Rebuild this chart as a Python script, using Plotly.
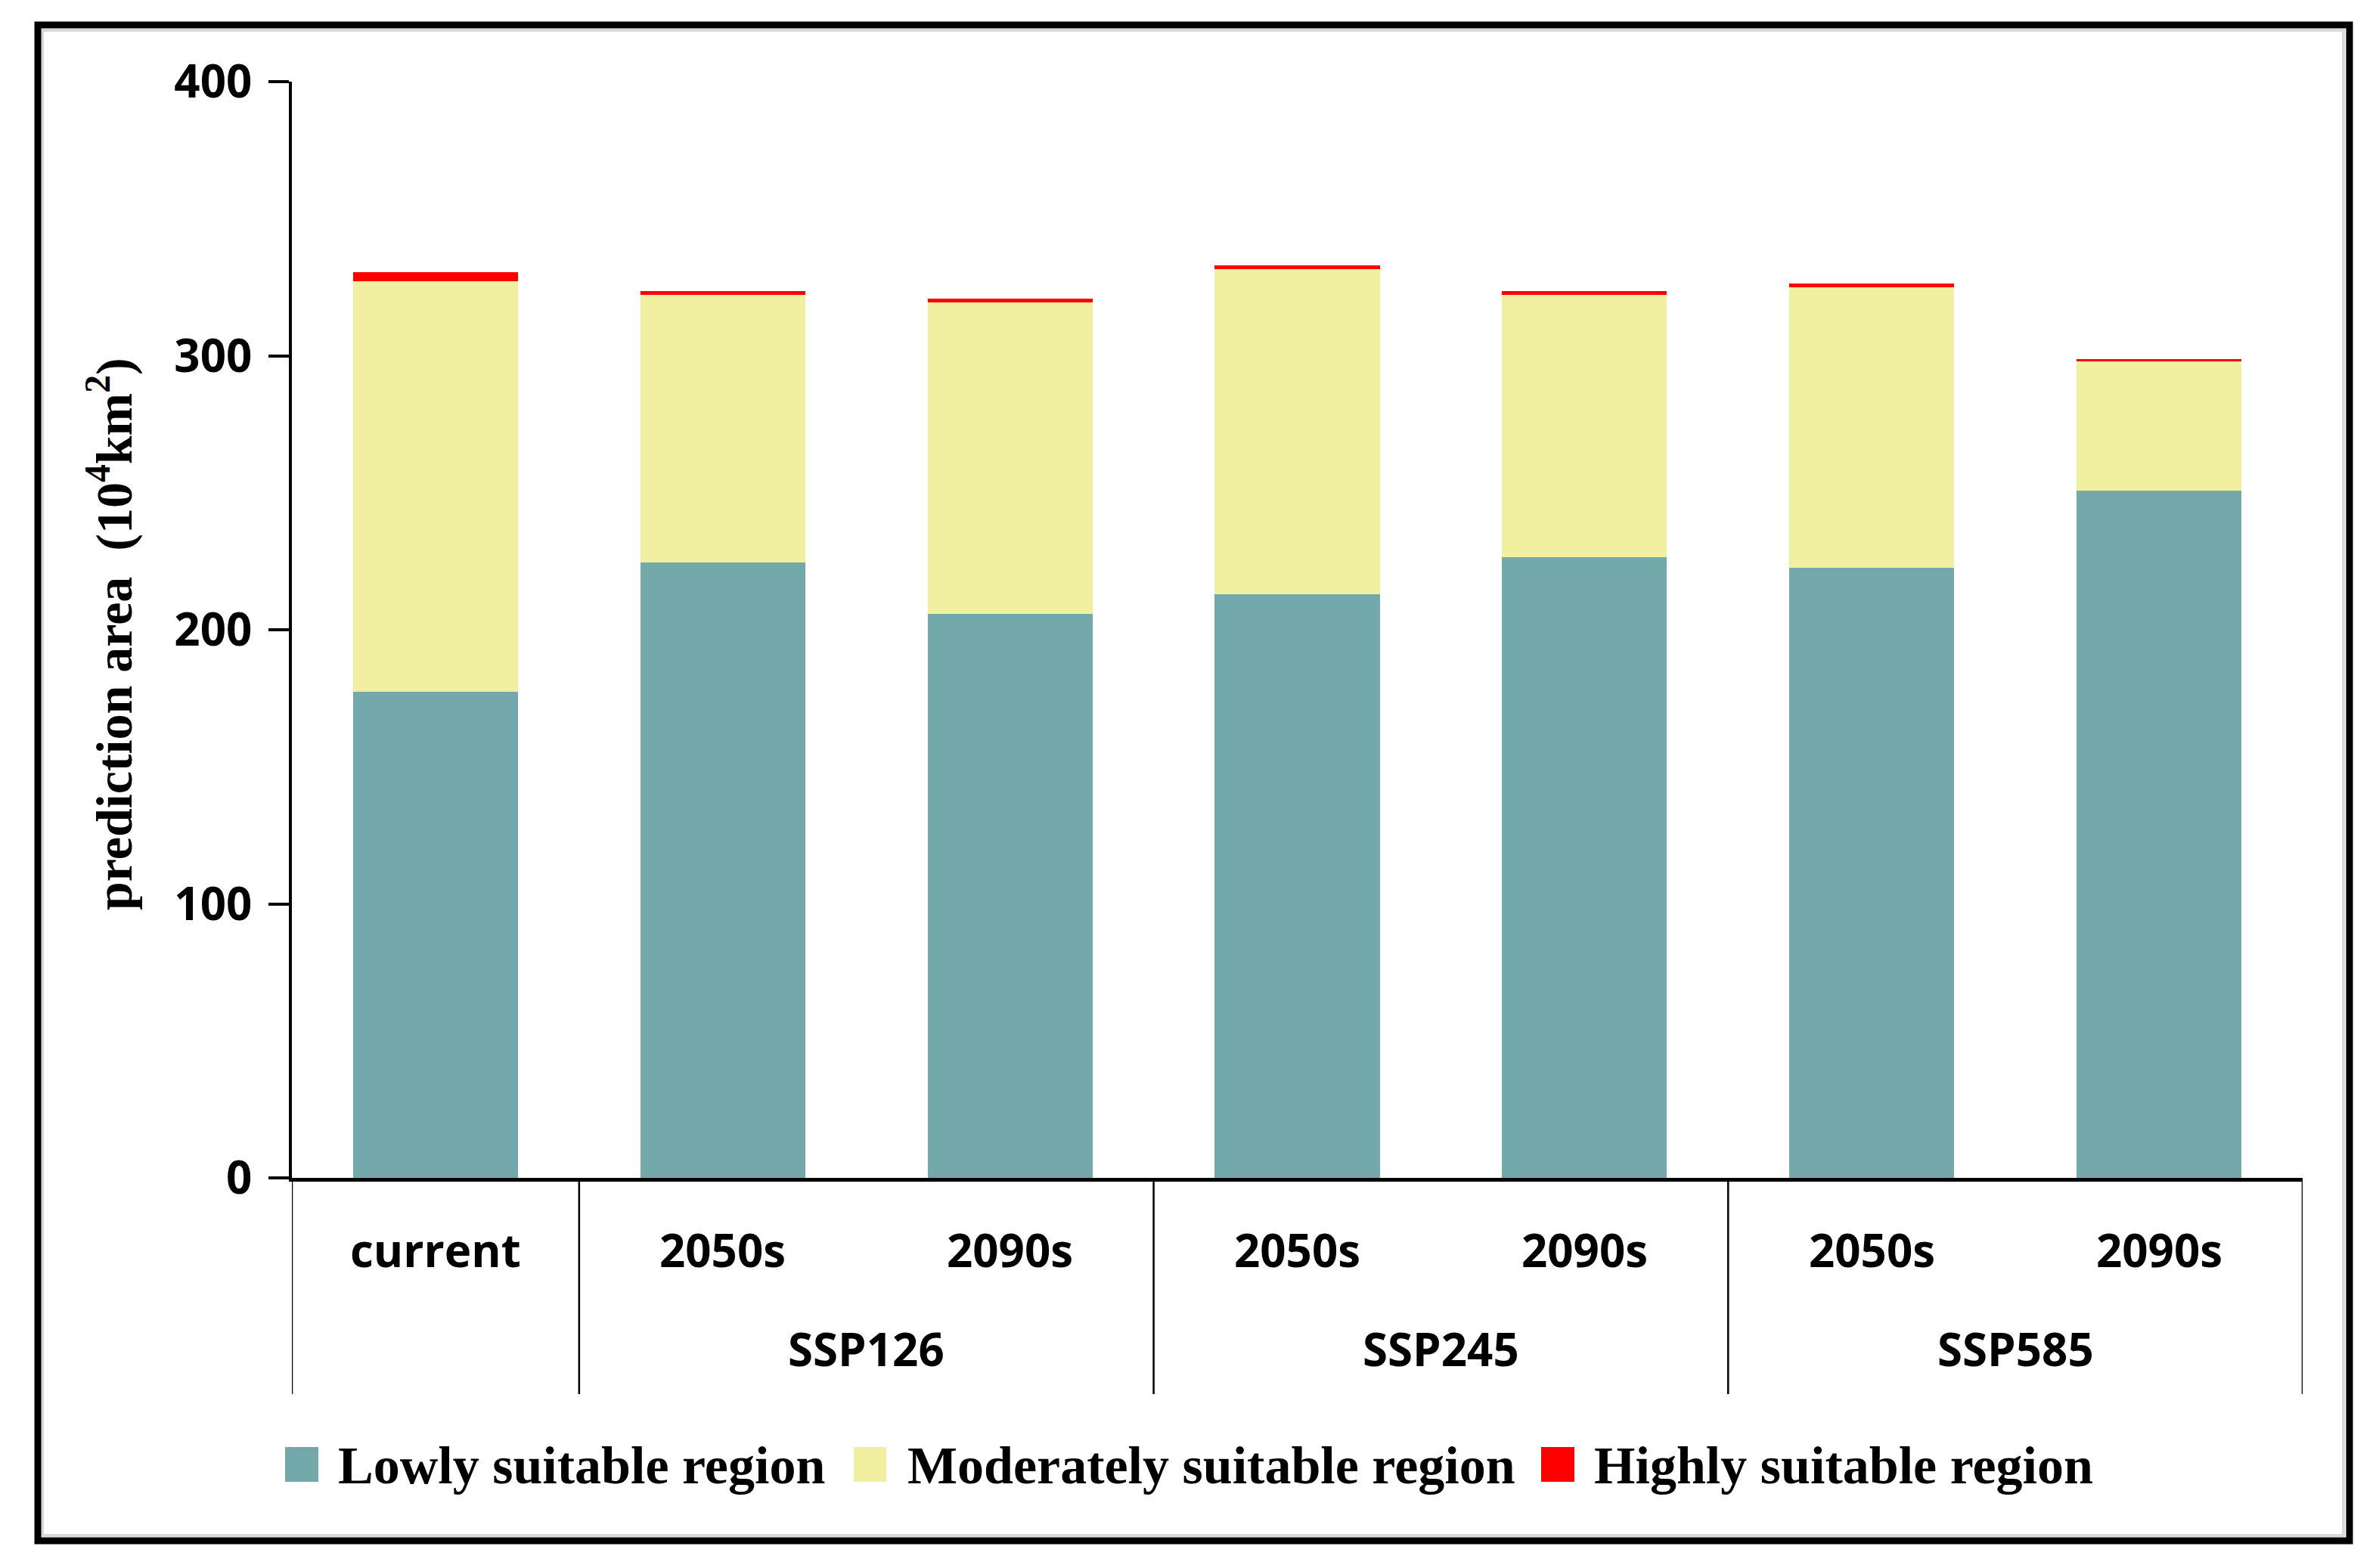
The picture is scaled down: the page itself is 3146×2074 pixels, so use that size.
import plotly.graph_objects as go

# ---------------- data ----------------
periods = ["current", "2050s", "2090s", "2050s", "2090s", "2050s", "2090s"]
scenarios = ["", "SSP126", "SSP126", "SSP245", "SSP245", "SSP585", "SSP585"]
series_names = ["Lowly suitable region", "Moderately suitable region", "Highly suitable region"]
lowly = [177.5, 224.5, 205.7, 213.0, 226.6, 222.5, 250.8]
moderately = [149.6, 97.8, 113.8, 118.7, 95.7, 102.5, 47.2]
highly = [3.3, 1.3, 1.4, 1.3, 1.3, 1.3, 0.8]
colors = ["#74A9AB", "#F0F0A0", "#FF0000"]
y_ticks = [0, 100, 200, 300, 400]
y_title = "prediction area\u00a0\u00a0(10<sup>4</sup>km<sup>2</sup>)"

# ---------------- geometry (pixels, page coordinates) ----------------
OFF = 8  # default page margin of the html body
W, H = 3146 - 2 * OFF, 2074 - 2 * OFF
PL, PR, PT, PB = 386 - OFF, 3045 - OFF, 108 - OFF, 1558 - OFF  # plot area in figure px


def px(x):
    return (x - OFF - PL) / (PR - PL)


def py(y):
    return (PB - (y - OFF)) / (PB - PT)


xs = list(range(len(periods)))
fig = go.Figure()
for name, vals, col in zip(series_names, [lowly, moderately, highly], colors):
    fig.add_trace(go.Bar(x=xs, y=vals, name=name, marker=dict(color=col, line=dict(width=0)),
                         showlegend=False))

tick_font = dict(family="Open Sans", size=60, color="black", weight="bold")
serif_font = dict(family="Liberation Serif", size=70, color="black", weight="bold")

annotations = []
# category labels
for i, p in enumerate(periods):
    annotations.append(dict(x=i, y=py(1653), xref="x", yref="paper", text=p, showarrow=False,
                            font=tick_font, xanchor="center", yanchor="middle"))
# group labels and separators
shapes = []
bounds = [-0.5]
for i in range(1, len(scenarios)):
    if scenarios[i] != scenarios[i - 1]:
        bounds.append(i - 0.5)
bounds.append(len(scenarios) - 0.5)
for b0, b1 in zip(bounds[:-1], bounds[1:]):
    g = scenarios[int(b0 + 0.5)]
    if g:
        annotations.append(dict(x=(b0 + b1) / 2, y=py(1784), xref="x", yref="paper", text=g,
                                showarrow=False, font=tick_font, xanchor="center", yanchor="middle"))
for b in bounds:
    shapes.append(dict(type="line", xref="x", yref="paper", x0=b, x1=b, y0=0, y1=py(1844),
                       line=dict(color="black", width=2.5)))

# y title
annotations.append(dict(x=px(146), y=py(838), xref="paper", yref="paper", text=y_title,
                        textangle=-90, showarrow=False,
                        font=dict(family="Liberation Serif", size=68, color="black", weight="bold"),
                        xanchor="center", yanchor="middle"))

# manual legend
leg_sq = [(377, 421), (1129, 1172), (2038, 2082)]
leg_tx = [445, 1198, 2106]
for (a, b), tx, name, col in zip(leg_sq, leg_tx, series_names, colors):
    shapes.append(dict(type="rect", xref="paper", yref="paper", x0=px(a), x1=px(b),
                       y0=py(1960), y1=py(1914), fillcolor=col, line=dict(width=0)))
    annotations.append(dict(x=px(tx), y=py(1938), xref="paper", yref="paper", text=name,
                            showarrow=False, font=serif_font, xanchor="left", yanchor="middle"))

# outer frame
shapes.append(dict(type="rect", xref="paper", yref="paper", x0=px(56), x1=px(3099),
                   y0=py(2031), y1=py(40), line=dict(color="#D9D9D9", width=4)))
shapes.append(dict(type="rect", xref="paper", yref="paper", x0=px(50), x1=px(3107),
                   y0=py(2038), y1=py(33), line=dict(color="black", width=9)))

fig.update_layout(
    width=W, height=H,
    margin=dict(l=PL, r=W - PR, t=PT, b=H - PB, pad=0),
    paper_bgcolor="white", plot_bgcolor="white",
    barmode="stack", bargap=0.426,
    showlegend=False,
    annotations=annotations, shapes=shapes,
    xaxis=dict(range=[-0.5, len(periods) - 0.5], showticklabels=False, ticks="",
               showline=True, linecolor="black", linewidth=4.5, showgrid=False, zeroline=False,
               fixedrange=True),
    yaxis=dict(range=[0, 400], tickvals=y_ticks, ticks="outside", ticklen=27, tickwidth=4,
               tickcolor="black", showline=True, linecolor="black", linewidth=3.5,
               showgrid=False, zeroline=False, tickfont=tick_font, ticklabelstandoff=10),
)

fig.write_html("out.html")
